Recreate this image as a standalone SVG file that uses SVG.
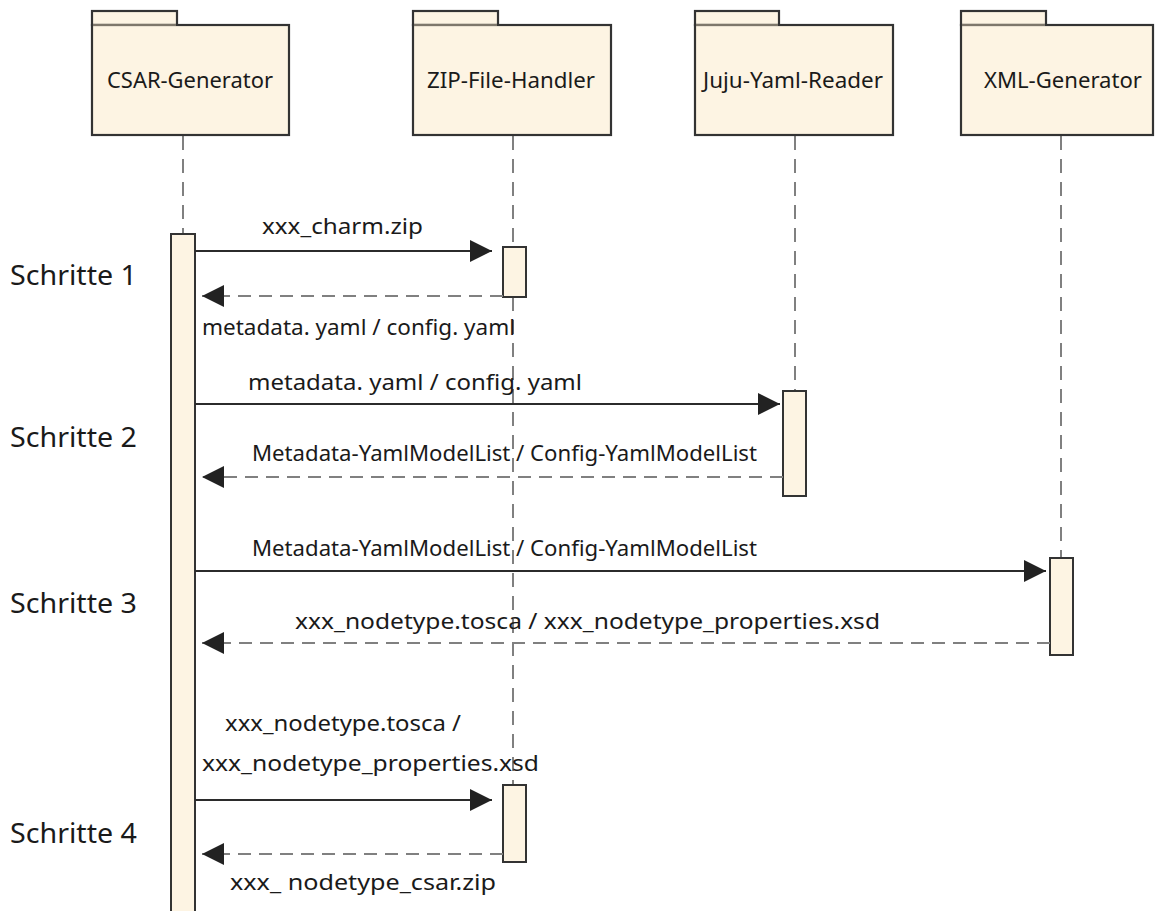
<svg xmlns="http://www.w3.org/2000/svg" width="1155" height="911" viewBox="0 0 1155 911">
  <style>
    .pkg { fill: #fdf4e3; stroke: #333; stroke-width: 2.2; }
    .tabline { stroke: #c9bca4; stroke-width: 1.2; }
    .act { fill: #fdf4e3; stroke: #333; stroke-width: 2; }
    .life { stroke: #808080; stroke-width: 2; stroke-dasharray: 14 9; fill: none; }
    .call { stroke: #2b2b2b; stroke-width: 2; fill: none; marker-end: url(#head); }
    .reply { stroke: #808080; stroke-width: 2.2; stroke-dasharray: 13 8; fill: none; marker-end: url(#head); }
    .pname { font-family: "Noto Sans", "Open Sans", sans-serif; font-size: 22.5px; fill: #1a1a1a; text-anchor: middle; }
    .msg { font-family: "Noto Sans", "Open Sans", sans-serif; font-size: 21px; fill: #1a1a1a; }
    .step { font-family: "Noto Sans", "Open Sans", sans-serif; font-size: 28px; fill: #1a1a1a; }
  </style>
  <defs>
    <marker id="head" markerUnits="userSpaceOnUse" markerWidth="24" markerHeight="24" refX="22" refY="11" orient="auto">
      <path d="M0,0 L22,11 L0,22 z" fill="#222"/>
    </marker>
  </defs>

  <rect width="1155" height="911" fill="#fff"/>

  <!-- lifelines -->
  <g id="lifelines">
    <line class="life" x1="183" y1="136" x2="183" y2="234"/>
    <line class="life" x1="513" y1="136" x2="513" y2="247"/>
    <line class="life" x1="513" y1="297" x2="513" y2="785"/>
    <line class="life" x1="795" y1="136" x2="795" y2="391"/>
    <line class="life" x1="1061" y1="136" x2="1061" y2="558"/>
  </g>

  <!-- participants -->
  <g id="csar-generator">
    <rect class="pkg" x="92" y="11" width="85" height="14"/>
    <rect class="pkg" x="92" y="25" width="197" height="110"/>
    <line class="tabline" x1="93" y1="25" x2="176" y2="25"/>
    <text class="pname" x="190" y="88" textLength="166" lengthAdjust="spacingAndGlyphs">CSAR-Generator</text>
  </g>
  <g id="zip-file-handler">
    <rect class="pkg" x="413" y="11" width="85" height="14"/>
    <rect class="pkg" x="413" y="25" width="198" height="110"/>
    <line class="tabline" x1="414" y1="25" x2="497" y2="25"/>
    <text class="pname" x="511" y="88" textLength="168" lengthAdjust="spacingAndGlyphs">ZIP-File-Handler</text>
  </g>
  <g id="juju-yaml-reader">
    <rect class="pkg" x="695" y="11" width="84" height="14"/>
    <rect class="pkg" x="695" y="25" width="198" height="110"/>
    <line class="tabline" x1="696" y1="25" x2="778" y2="25"/>
    <text class="pname" x="793" y="88" textLength="180" lengthAdjust="spacingAndGlyphs">Juju-Yaml-Reader</text>
  </g>
  <g id="xml-generator">
    <rect class="pkg" x="961" y="11" width="85" height="14"/>
    <rect class="pkg" x="961" y="25" width="192" height="110"/>
    <line class="tabline" x1="962" y1="25" x2="1045" y2="25"/>
    <text class="pname" x="1063" y="88" textLength="158" lengthAdjust="spacingAndGlyphs">XML-Generator</text>
  </g>

  <!-- activation bars -->
  <g id="activations">
    <rect class="act" x="171" y="234" width="24" height="690"/>
    <rect class="act" x="503" y="247" width="23" height="50"/>
    <rect class="act" x="783" y="391" width="23" height="105"/>
    <rect class="act" x="1050" y="558" width="23" height="97"/>
    <rect class="act" x="503" y="785" width="23" height="77"/>
  </g>

  <!-- step labels -->
  <g id="steps">
    <text class="step" x="10" y="285" textLength="127" lengthAdjust="spacingAndGlyphs">Schritte 1</text>
    <text class="step" x="10" y="447" textLength="127" lengthAdjust="spacingAndGlyphs">Schritte 2</text>
    <text class="step" x="10" y="613" textLength="127" lengthAdjust="spacingAndGlyphs">Schritte 3</text>
    <text class="step" x="10" y="843" textLength="127" lengthAdjust="spacingAndGlyphs">Schritte 4</text>
  </g>

  <!-- messages -->
  <g id="connectors">
    <line class="call" x1="195" y1="251" x2="492" y2="251"/>
    <line class="reply" x1="503" y1="296" x2="202" y2="296"/>
    <line class="call" x1="195" y1="404" x2="780" y2="404"/>
    <line class="reply" x1="783" y1="477" x2="202" y2="477"/>
    <line class="call" x1="195" y1="571" x2="1046" y2="571"/>
    <line class="reply" x1="1050" y1="643" x2="202" y2="643"/>
    <line class="call" x1="195" y1="800" x2="492" y2="800"/>
    <line class="reply" x1="503" y1="854" x2="202" y2="854"/>
  </g>

  <g id="labels">
    <text class="msg" x="262" y="234" textLength="161" lengthAdjust="spacingAndGlyphs">xxx_charm.zip</text>
    <text class="msg" x="202" y="335" textLength="313" lengthAdjust="spacingAndGlyphs">metadata. yaml / config. yaml</text>
    <text class="msg" x="248" y="390" textLength="334" lengthAdjust="spacingAndGlyphs">metadata. yaml / config. yaml</text>
    <text class="msg" x="252" y="461" textLength="505" lengthAdjust="spacingAndGlyphs">Metadata-YamlModelList / Config-YamlModelList</text>
    <text class="msg" x="252" y="556" textLength="505" lengthAdjust="spacingAndGlyphs">Metadata-YamlModelList / Config-YamlModelList</text>
    <text class="msg" x="295" y="629" textLength="585" lengthAdjust="spacingAndGlyphs">xxx_nodetype.tosca / xxx_nodetype_properties.xsd</text>
    <text class="msg" x="225" y="731" textLength="236" lengthAdjust="spacingAndGlyphs">xxx_nodetype.tosca /</text>
    <text class="msg" x="202" y="771" textLength="337" lengthAdjust="spacingAndGlyphs">xxx_nodetype_properties.xsd</text>
    <text class="msg" x="230" y="890" textLength="266" lengthAdjust="spacingAndGlyphs">xxx_ nodetype_csar.zip</text>
  </g>
</svg>
